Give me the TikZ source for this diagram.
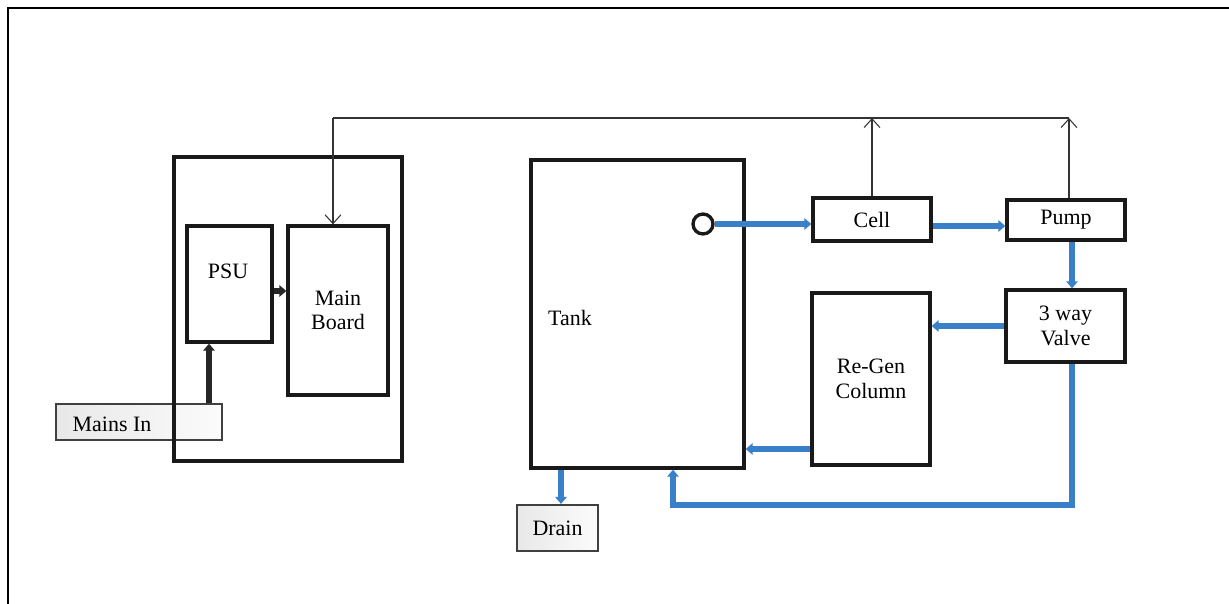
\documentclass[tikz,border=0pt]{standalone}
\usepackage{fontspec}
\setmainfont{Liberation Serif}
\usetikzlibrary{arrows.meta,calc}
\definecolor{flow}{RGB}{58,128,200}
\begin{document}
\begin{tikzpicture}[x=0.02cm,y=-0.02cm,
  box/.style={draw=black!90,line width=1.9pt,inner sep=0pt,font=\fontsize{12.5}{14}\selectfont,align=center},
  ext/.style={draw=black!75,line width=1.2pt,left color=gray!18,right color=gray!3,inner sep=0pt,font=\fontsize{12.5}{14}\selectfont},
  lbl/.style={inner sep=0pt,font=\fontsize{12.5}{14}\selectfont},
  flowline/.style={draw=flow,line width=3.3pt,-{Triangle[length=4pt,width=6.5pt]}},
  power/.style={draw=black!85,line width=3.3pt,-{Triangle[length=4pt,width=6.5pt]}},
  sig/.style={draw=black!80,line width=0.6pt},
  sigarrow/.style={sig,-{Straight Barb[length=5pt,width=9pt]}}]
\useasboundingbox (0,0) rectangle (1229,604);
\draw[line width=0.8pt] (1229,8) -- (8,8) -- (8,604);
% left unit
\node[ext,minimum width=3.32cm,minimum height=0.72cm] (mains) at (139,422) {};
\node[lbl] (mainst) at (112,424) {Mains In};
\node[box,minimum width=4.56cm,minimum height=6.08cm] (unit) at (288,309) {};
\node[box,minimum width=1.7cm,minimum height=2.32cm] (psu) at (229.5,284) {};
\node[lbl] (psut) at (228,271) {PSU};
\node[box,minimum width=2.0cm,minimum height=3.38cm] (mb) at (338,310.5) {Main\\Board};
\coordinate (feed) at (209,0);
\draw[power] (feed |- mains.north) -- (feed |- psu.south);
\draw[power] (psu.east |- 0,291) -- (mb.west |- 0,291);
% tank side
\node[box,minimum width=4.26cm,minimum height=6.16cm] (tank) at (637.5,314) {};
\node[lbl] (tankt) at (570,318) {Tank};
\node[draw=black!90,line width=1.9pt,circle,minimum size=0.4cm,inner sep=0pt] (sensor) at (703,224) {};
\node[box,minimum width=2.36cm,minimum height=0.86cm] (cell) at (872,219.5) {Cell};
\node[box,minimum width=2.36cm,minimum height=0.8cm] (pump) at (1066,220) {\raisebox{-2pt}{Pump}};
\node[box,minimum width=2.38cm,minimum height=1.44cm] (valve) at (1065.5,326) {3 way\\Valve};
\node[box,minimum width=2.36cm,minimum height=3.44cm] (regen) at (871,379) {Re-Gen\\Column};
\node[ext,minimum width=1.62cm,minimum height=0.92cm] (drain) at (557.5,528) {Drain};
% signal bus
\coordinate (busL) at (333,118);
\coordinate (busR) at (1069,118);
\draw[sig] (busR) -- (busL);
\draw[sigarrow] (busL) -- (busL |- mb.north);
\draw[sigarrow] (cell.north) -- (cell.north |- busL);
\draw[sigarrow] (busR |- pump.north) -- (busR);
% flows
\draw[flowline] (sensor.east) -- (sensor.east -| cell.west);
\draw[flowline] (cell.east |- 0,226) -- (pump.west |- 0,226);
\draw[flowline] (1072,0 |- pump.south) -- (1072,0 |- valve.north);
\draw[flowline] (valve.west) -- (valve.west -| regen.east);
\draw[flowline] (regen.west |- 0,449) -- (tank.east |- 0,449);
\draw[flowline] (1072,0 |- valve.south) -- (1072,505) -- (673,505) -- (673,0 |- tank.south);
\draw[flowline] (561,0 |- tank.south) -- (561,0 |- drain.north);
\end{tikzpicture}
\end{document}
